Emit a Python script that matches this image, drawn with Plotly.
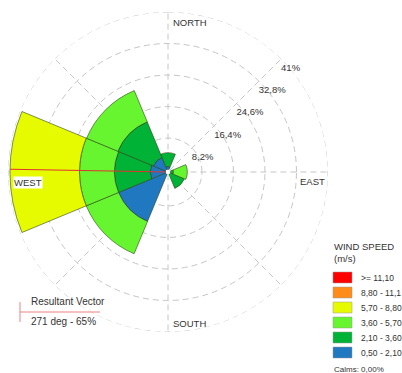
import math
import plotly.graph_objects as go

# Wind rose: frequency (%) per direction sector, stacked by speed class
directions = [0, 45, 90, 135, 180, 225, 270, 315]
speed_classes = [">= 11,10", "8,80 - 11,1", "5,70 - 8,80", "3,60 - 5,70", "2,10 - 3,60", "0,50 - 2,10"]
class_colors = ["#ff0000", "#ff8c1a", "#e6fa00", "#66f52e", "#00b236", "#1f78c0"]

freq_050_210 = [0.8, 0.0, 0.0, 0.0, 0.0, 13.3, 4.0, 3.5]
freq_210_360 = [3.6, 0.0, 0.8, 4.0, 0.0, 0.0, 9.3, 10.0]
freq_360_570 = [0.0, 0.0, 3.6, 0.0, 0.0, 9.1, 9.1, 8.8]
freq_570_880 = [0.0, 0.0, 0.0, 0.0, 0.0, 0.0, 18.1, 0.0]
freq_880_1110 = [0.0] * 8
freq_over_1110 = [0.0] * 8

ring_values = [8.2, 16.4, 24.6, 32.8, 41.0]
ring_labels = ["8,2%", "16,4%", "24,6%", "32,8%", "41%"]

resultant_dir = 271
resultant_len = 40.5
calms_text = "Calms: 0,00%"

W, H = 402, 373
FONT = "Liberation Sans, Arial, sans-serif"
TXT = "#333333"
GRID = "#c6c6c6"
DASH = "6px,4px"

R_MAX = ring_values[-1]
cx, cy = 168, 172       # centre of the rose in pixels
rad = 160               # pixel radius of the outer ring
px_per_pct = rad / R_MAX

fig = go.Figure()

# stacked from calmest class outward
stack = [
    (freq_050_210, class_colors[5]),
    (freq_210_360, class_colors[4]),
    (freq_360_570, class_colors[3]),
    (freq_570_880, class_colors[2]),
    (freq_880_1110, class_colors[1]),
    (freq_over_1110, class_colors[0]),
]
for vals, col in stack:
    fig.add_trace(go.Barpolar(
        r=vals, theta=directions, width=[45] * len(directions),
        marker=dict(color=col, line=dict(color="rgba(45,70,20,0.75)", width=0.8)),
        showlegend=False, hoverinfo="skip",
    ))

# dashed outer ring (the axis edge itself is not dashable)
fig.add_trace(go.Scatterpolar(
    r=[R_MAX] * 181, theta=list(range(0, 362, 2)), mode="lines",
    line=dict(color=GRID, width=1, dash=DASH), showlegend=False, hoverinfo="skip",
))

# resultant vector direction
fig.add_trace(go.Scatterpolar(
    r=[0, resultant_len], theta=[resultant_dir, resultant_dir], mode="lines",
    line=dict(color="rgb(225,50,50)", width=1), showlegend=False, hoverinfo="skip",
))

# ring labels just below-right of where each ring crosses the NE diagonal
nudge = 3.5  # px
lab_r = [v - nudge / px_per_pct for v in ring_values]
lab_t = [45 + math.degrees(nudge / (v * px_per_pct)) for v in ring_values]
fig.add_trace(go.Scatterpolar(
    r=lab_r, theta=lab_t, mode="text",
    text=ring_labels, textposition="bottom right",
    textfont=dict(family=FONT, size=9.5, color=TXT),
    showlegend=False, hoverinfo="skip",
))

fig.update_layout(
    width=W, height=H,
    margin=dict(l=0, r=0, t=0, b=0),
    paper_bgcolor="white",
    font=dict(family=FONT, color=TXT),
    polar=dict(
        domain=dict(x=[(cx - rad) / W, (cx + rad) / W], y=[1 - (cy + rad) / H, 1 - (cy - rad) / H]),
        bgcolor="white",
        hole=0.015,
        barmode="stack",
        radialaxis=dict(range=[0, R_MAX], tickvals=ring_values, showticklabels=False, ticks="",
                        showline=False, gridcolor=GRID, griddash=DASH, gridwidth=1),
        angularaxis=dict(rotation=90, direction="clockwise", tickvals=directions,
                         showticklabels=False, ticks="", showline=False,
                         gridcolor=GRID, griddash=DASH, gridwidth=1),
    ),
)

ann = []
def text(x, y, s, size=9.5, xanchor="left", bg=None):
    ann.append(dict(x=x / W, y=1 - y / H, xref="paper", yref="paper", text=s, showarrow=False,
                    xanchor=xanchor, yanchor="middle", font=dict(family=FONT, size=size, color=TXT),
                    bgcolor=bg, borderpad=0))

text(172, 22, "NORTH")
text(299, 181, "EAST")
text(13, 182, "WEST", bg="white")
text(172, 323, "SOUTH")

# resultant vector key
text(30, 301, "Resultant Vector", size=10)
text(30, 321, "271 deg - 65%", size=10)
shapes = [
    dict(type="line", xref="paper", yref="paper", x0=20 / W, x1=100 / W, y0=1 - 312 / H, y1=1 - 312 / H,
         line=dict(color="rgb(235,130,130)", width=1)),
    dict(type="line", xref="paper", yref="paper", x0=20 / W, x1=20 / W, y0=1 - 302 / H, y1=1 - 322 / H,
         line=dict(color="rgb(235,130,130)", width=1)),
]

# speed legend
text(333, 246, "WIND SPEED", size=9.5)
text(333, 258, "(m/s)", size=9.5)
for i, (lab, col) in enumerate(zip(speed_classes, class_colors)):
    y0 = 272 + 15 * i
    shapes.append(dict(type="rect", xref="paper", yref="paper",
                       x0=333 / W, x1=352 / W, y0=1 - y0 / H, y1=1 - (y0 + 11) / H,
                       fillcolor=col, line=dict(color="#999999", width=0.5)))
    text(360, y0 + 5.5, lab, size=8.5)
text(333, 369, calms_text, size=8)

fig.update_layout(annotations=ann, shapes=shapes)
fig.write_html("out.html")
